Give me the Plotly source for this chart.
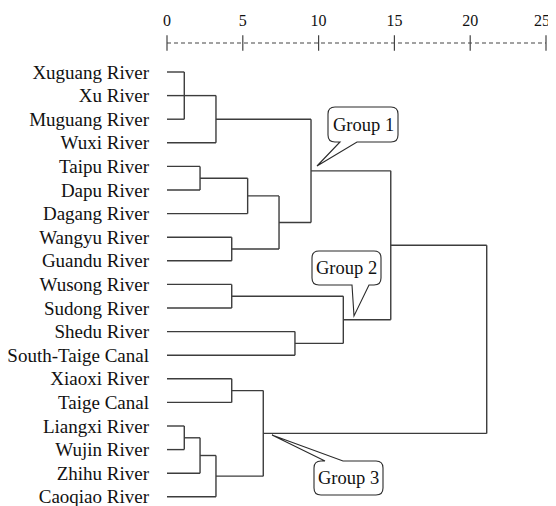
import plotly.graph_objects as go

# ---------------- data ----------------
labels = ["Xuguang River", "Xu River", "Muguang River", "Wuxi River", "Taipu River",
          "Dapu River", "Dagang River", "Wangyu River", "Guandu River", "Wusong River",
          "Sudong River", "Shedu River", "South-Taige Canal", "Xiaoxi River", "Taige Canal",
          "Liangxi River", "Wujin River", "Zhihu River", "Caoqiao River"]

# merge steps (ids 19.. for new clusters), rescaled distance of each merge
merge_left = [0, 15, 19, 4, 20, 21, 23, 7, 9, 13, 22, 28, 29, 11, 24, 27, 33, 35]
merge_right = [2, 16, 1, 5, 17, 3, 18, 8, 10, 14, 6, 25, 26, 12, 31, 32, 34, 30]
merge_height = [1.14, 1.14, 1.14, 2.18, 2.18, 3.23, 3.23, 4.27, 4.27, 4.27,
                5.32, 6.35, 7.39, 8.44, 9.50, 11.63, 14.76, 21.09]

tick_values = [0, 5, 10, 15, 20, 25]
tick_labels = ["0", "5", "10", "15", "20", "25\u00a0\u00a0"]

group_names = ["Group 1", "Group 2", "Group 3"]

# ---------------- layout constants ----------------
OFF = 8  # default page body margin
W, H = 556 - OFF, 506 - OFF
X0PX, X25PX = 167.0 - OFF, 546.0 - OFF
XSCALE = (X25PX - X0PX) / 25.0
ROW0PX, ROWPX = 72.0 - OFF, 23.6
ML, MR, MT, MB = int(X0PX), int(W - X25PX), 43 - OFF, 0
y_top = (MT - ROW0PX) / ROWPX
y_bot = (H - MB - ROW0PX) / ROWPX

FONT = "Liberation Serif, Times New Roman, serif"
LINE = "#3c3c3c"

# ---------------- dendrogram geometry ----------------
n = len(labels)
pos_y = {i: float(i) for i in range(n)}
pos_h = {i: 0.0 for i in range(n)}
xs, ys = [], []
for k, (a, b, h) in enumerate(zip(merge_left, merge_right, merge_height)):
    node = n + k
    for c in (a, b):
        xs += [pos_h[c], h, None]
        ys += [pos_y[c], pos_y[c], None]
    xs += [h, h, None]
    ys += [pos_y[a], pos_y[b], None]
    pos_y[node] = (pos_y[a] + pos_y[b]) / 2.0
    pos_h[node] = h

fig = go.Figure()
fig.add_trace(go.Scatter(x=xs, y=ys, mode="lines",
                         line=dict(color=LINE, width=1.4),
                         hoverinfo="skip", showlegend=False))

# "+" tick marks on top dashed axis
fig.add_trace(go.Scatter(x=tick_values, y=[1] * len(tick_values), yaxis="y2",
                         mode="markers", cliponaxis=False,
                         marker=dict(symbol="line-ns", size=11,
                                     line=dict(color="#444444", width=1.2)),
                         hoverinfo="skip", showlegend=False))

# dashed axis line
fig.add_shape(type="line", xref="x", yref="paper", x0=0, x1=25, y0=1, y1=1,
              line=dict(color="#444444", width=1.1, dash="4px,3px"))


# ---------------- callouts ----------------
def px2d(px, py):
    # px, py given in page pixels
    return (px - OFF - X0PX) / XSCALE, (py - OFF - ROW0PX) / ROWPX


def callout_path(x0, y0, x1, y1, r, edge, ta, tb, tip):
    cmds = []

    def M(p): cmds.append(("M", [p]))

    def L(p): cmds.append(("L", [p]))

    def Q(c, p): cmds.append(("Q", [c, p]))

    M((x0 + r, y0))
    if edge == "top":
        L((ta, y0)); L(tip); L((tb, y0))
    L((x1 - r, y0)); Q((x1, y0), (x1, y0 + r))
    L((x1, y1 - r)); Q((x1, y1), (x1 - r, y1))
    if edge == "bottom":
        L((tb, y1)); L(tip); L((ta, y1))
    L((x0 + r, y1)); Q((x0, y1), (x0, y1 - r))
    L((x0, y0 + r)); Q((x0, y0), (x0 + r, y0))
    s = ""
    for c, ps in cmds:
        s += c + " ".join("%.4f,%.4f" % px2d(*p) for p in ps) + " "
    return s + "Z"


callouts = [
    # box x0,y0,x1,y1 (page px), tail edge, tail base a,b, tip
    (328, 107, 398, 142, "bottom", 340, 357, (317, 166)),
    (312, 251, 381, 285, "bottom", 352, 369, (354, 316)),
    (314, 461, 383, 495, "top", 325, 343, (272, 435)),
]
for name, (bx0, by0, bx1, by1, edge, ta, tb, tip) in zip(group_names, callouts):
    fig.add_shape(type="path", xref="x", yref="y",
                  path=callout_path(bx0, by0, bx1, by1, 7, edge, ta, tb, tip),
                  line=dict(color="#2a2a2a", width=1.1), fillcolor="white")
    cx, cy = px2d((bx0 + bx1) / 2, (by0 + by1) / 2)
    fig.add_annotation(x=cx, y=cy, xref="x", yref="y", text=name, showarrow=False,
                       font=dict(family=FONT, size=18.5, color="#111111"),
                       xanchor="center", yanchor="middle")

fig.update_layout(
    width=W, height=H, margin=dict(l=ML, r=MR, t=MT, b=MB, pad=0, autoexpand=False),
    paper_bgcolor="white", plot_bgcolor="white",
    font=dict(family=FONT, color="#111111"),
    xaxis=dict(range=[0, 25], side="top", showgrid=False, zeroline=False, showline=False,
               automargin=False, tickmode="array", tickvals=tick_values,
               ticktext=tick_labels, ticks="", ticklabelstandoff=13,
               ticklabeloverflow="allow",
               tickfont=dict(family=FONT, size=16, color="#111111")),
    yaxis=dict(range=[y_bot, y_top], showgrid=False, zeroline=False, showline=False,
               automargin=False, tickmode="array", tickvals=list(range(n)),
               ticktext=labels, ticks="", ticklabelstandoff=17,
               ticklabeloverflow="allow",
               tickfont=dict(family=FONT, size=19, color="#111111")),
    yaxis2=dict(range=[0, 1], overlaying="y", visible=False),
    showlegend=False,
)

fig.write_html("out.html")
